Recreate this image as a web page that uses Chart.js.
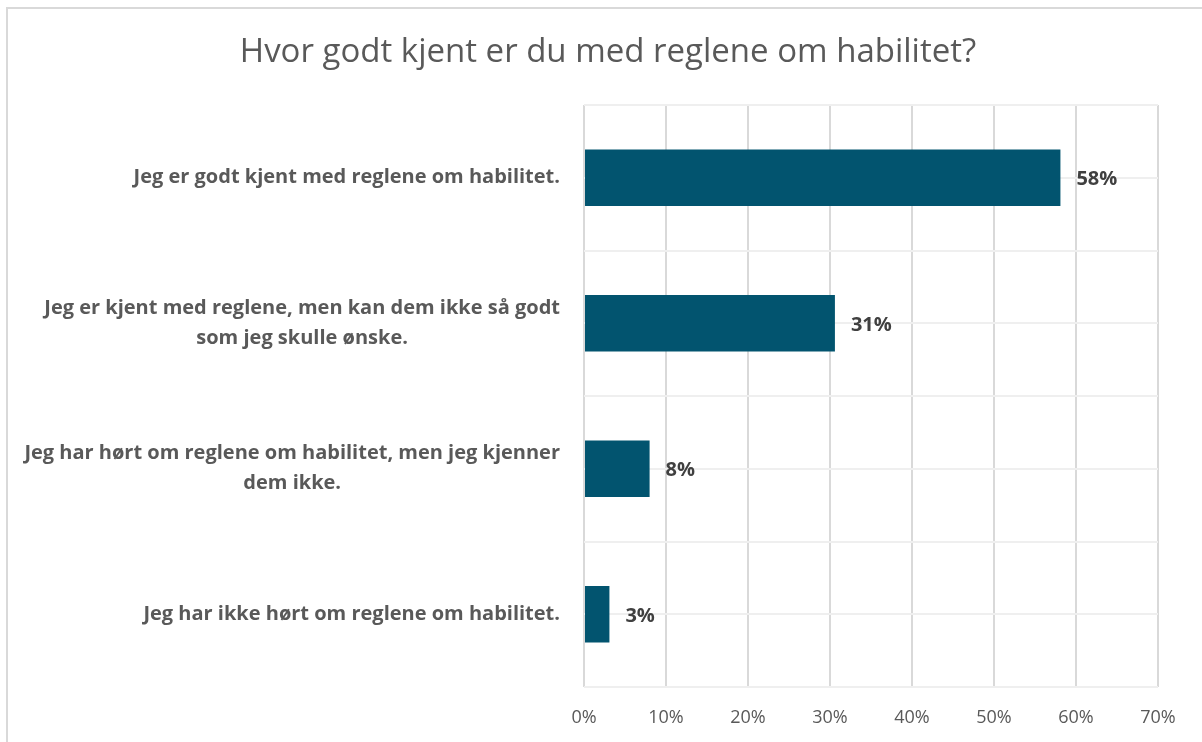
<!DOCTYPE html>
<html>
<head>
<meta charset="utf-8">
<script src="https://cdn.jsdelivr.net/npm/chart.js@4.4.1/dist/chart.umd.min.js"></script>
<style>
  html, body { margin: 0; padding: 0; background: #fff; }
  #wrap { position: relative; width: 1202px; height: 742px; }
  #frame { position: absolute; left: 6px; top: 7px; right: -10px; bottom: -10px;
           border-left: 2px solid #d9d9d9; border-top: 2px solid #d9d9d9; pointer-events: none; }
</style>
</head>
<body>
<div id="wrap">
  <canvas id="chart"></canvas>
  <div id="frame"></div>
</div>
<script>
// categories, top to bottom
const categories = [
  ['Jeg er godt kjent med reglene om habilitet.'],
  ['Jeg er kjent med reglene, men kan dem ikke så godt', 'som jeg skulle ønske.'],
  ['Jeg har hørt om reglene om habilitet, men jeg kjenner', 'dem ikke.'],
  ['Jeg har ikke hørt om reglene om habilitet.']
];
const shares = [58.1, 30.6, 8.0, 3.1];
const xTicks = [0, 10, 20, 30, 40, 50, 60, 70];
const chartTitle = 'Hvor godt kjent er du med reglene om habilitet?';

const FONT = '"Open Sans"';

// title centred on the whole frame, not only the plot box
const titlePlugin = {
  id: 'titlePlugin',
  afterDraw(chart) {
    const ctx = chart.ctx;
    ctx.save();
    ctx.font = '33px ' + FONT;
    ctx.fillStyle = '#595959';
    ctx.textAlign = 'center';
    ctx.textBaseline = 'middle';
    ctx.fillText(chartTitle, chart.width / 2 + 7, 53);
    ctx.restore();
  }
};

// category labels: block right-aligned to the axis, lines centred within the block
const catLabels = {
  id: 'catLabels',
  afterDraw(chart) {
    const ctx = chart.ctx;
    const scale = chart.scales.y;
    ctx.save();
    ctx.font = 'bold 20px ' + FONT;
    ctx.fillStyle = '#595959';
    ctx.textAlign = 'center';
    ctx.textBaseline = 'middle';
    categories.forEach((lines, i) => {
      const y = scale.getPixelForTick(i);
      const w = Math.max(...lines.map(l => ctx.measureText(l).width));
      const cx = scale.right - 24 - w / 2;
      lines.forEach((l, j) => {
        ctx.fillText(l, cx, y + (j - (lines.length - 1) / 2) * 30);
      });
    });
    ctx.restore();
  }
};

// value labels after each bar
const valueLabels = {
  id: 'valueLabels',
  afterDatasetsDraw(chart) {
    const ctx = chart.ctx;
    const meta = chart.getDatasetMeta(0);
    ctx.save();
    ctx.font = 'bold 20px ' + FONT;
    ctx.fillStyle = '#404040';
    ctx.textAlign = 'left';
    ctx.textBaseline = 'middle';
    meta.data.forEach((bar, i) => {
      ctx.fillText(Math.round(shares[i]) + '%', bar.x + 16, bar.y + 2);
    });
    ctx.restore();
  }
};

new Chart(document.getElementById('chart'), {
  type: 'bar',
  data: {
    labels: categories,
    datasets: [{
      data: shares,
      backgroundColor: '#02546f',
      borderWidth: 0,
      barPercentage: 0.39,
      categoryPercentage: 1
    }]
  },
  options: {
    indexAxis: 'y',
    responsive: true,
    maintainAspectRatio: false,
    animation: false,
    layout: { padding: { left: 0, right: 44, top: 105, bottom: 0 } },
    plugins: {
      legend: { display: false },
      tooltip: { enabled: false },
      title: { display: false }
    },
    scales: {
      x: {
        min: 0,
        max: 70,
        afterBuildTicks: s => { s.ticks = xTicks.map(v => ({ value: v })); },
        ticks: {
          callback: v => v + '%',
          color: '#595959',
          font: { family: FONT, size: 18 },
          padding: 20
        },
        grid: { color: '#d9d9d9', lineWidth: 2, drawTicks: false },
        border: { display: false },
        afterFit: s => { s.height = 55; }
      },
      y: {
        ticks: { display: false },
        grid: { color: '#efefef', lineWidth: 2, drawTicks: false, offset: true },
        border: { display: false },
        afterFit: s => { s.width = 584; }
      },
      y2: {
        type: 'category',
        labels: categories,
        position: 'left',
        offset: true,
        ticks: { display: false },
        grid: { color: '#efefef', lineWidth: 2, drawTicks: false, offset: false },
        border: { display: false },
        afterFit: s => { s.width = 0; }
      }
    }
  },
  plugins: [titlePlugin, catLabels, valueLabels]
});
</script>
</body>
</html>
